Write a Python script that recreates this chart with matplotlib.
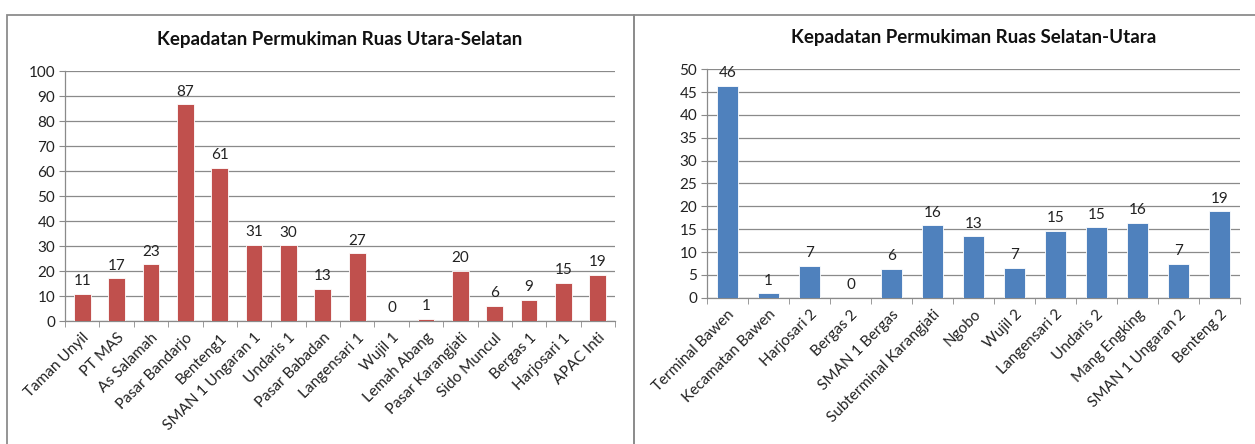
import matplotlib
matplotlib.use("Agg")
import matplotlib.pyplot as plt
from matplotlib.patches import Rectangle
from matplotlib.ticker import FixedLocator

plt.rcParams['font.family'] = ['Lato', 'DejaVu Sans']

# Ruas Utara-Selatan
utara_labels = ["Taman Unyil", "PT MAS", "As Salamah", "Pasar Bandarjo", "Benteng1",
                "SMAN 1 Ungaran 1", "Undaris 1", "Pasar Babadan", "Langensari 1",
                "Wujil 1", "Lemah Abang", "Pasar Karangjati", "Sido Muncul",
                "Bergas 1", "Harjosari 1", "APAC Inti"]
utara_values = [10.8, 17.2, 22.8, 86.9, 61.4, 30.6, 30.4, 12.8, 27.1,
                0.0, 0.8, 20.2, 6.0, 8.6, 15.4, 18.6]

# Ruas Selatan-Utara
selatan_labels = ["Terminal Bawen", "Kecamatan Bawen", "Harjosari 2", "Bergas 2",
                  "SMAN 1 Bergas", "Subterminal Karangjati", "Ngobo", "Wujil 2",
                  "Langensari 2", "Undaris 2", "Mang Engking", "SMAN 1 Ungaran 2",
                  "Benteng 2"]
selatan_values = [46.4, 0.95, 7.0, 0.0, 6.3, 15.9, 13.4, 6.6, 14.6, 15.4, 16.4, 7.4, 18.9]

W, H = 1255, 444
fig = plt.figure(figsize=(W / 100, H / 100), dpi=100)

# outer frames of the two chart boxes
frame_col = "#8c8c8c"
fig.patches.append(Rectangle((7 / W, -0.1), (634 - 7) / W, 1.1 - 15 / H,
                             transform=fig.transFigure, fill=False,
                             edgecolor=frame_col, linewidth=1.3))
fig.patches.append(Rectangle((634 / W, -0.1), 1.0, 1.1 - 15 / H,
                             transform=fig.transFigure, fill=False,
                             edgecolor=frame_col, linewidth=1.3))

FS = 11


def bar_panel(rect, labels, values, color, ymax, step, title, title_y, bar_w):
    ax = fig.add_axes(rect)
    n = len(labels)
    x = range(n)
    ax.bar(x, values, width=bar_w, color=color, edgecolor="white",
           linewidth=0.6, zorder=3)
    for xi, v in zip(x, values):
        ax.annotate(f"{v:.0f}", (xi, v), xytext=(0, 4), textcoords="offset points",
                    ha="center", va="bottom", fontsize=FS, color="#222222")
    ax.set_xlim(-0.5, n - 0.5)
    ax.set_ylim(0, ymax)
    ax.set_yticks(range(0, ymax + 1, step))
    ax.yaxis.grid(True, color="#8a8a8a", linewidth=0.9, zorder=0)
    ax.set_axisbelow(True)

    ax.set_xticks(list(x))
    ax.set_xticklabels(labels, rotation=45, ha="right", rotation_mode="anchor",
                       fontsize=FS, color="#222222")
    ax.xaxis.set_minor_locator(FixedLocator([i - 0.5 for i in range(n + 1)]))
    ax.tick_params(axis="x", which="major", length=0, pad=7)
    ax.tick_params(axis="x", which="minor", length=4, color="#8a8a8a", direction="out")
    ax.tick_params(axis="y", length=4, color="#8a8a8a", labelsize=FS,
                   labelcolor="#222222", pad=3)

    for side in ("top", "right"):
        ax.spines[side].set_visible(False)
    for side in ("left", "bottom"):
        ax.spines[side].set_color("#8a8a8a")
        ax.spines[side].set_linewidth(0.9)

    cx = rect[0] + rect[2] / 2
    fig.text(cx, title_y, title, ha="center", va="center",
             fontsize=13.5, fontweight="bold", color="#111111")
    return ax


bar_panel([65 / W, (H - 321) / H, 550 / W, 249.6 / H], utara_labels, utara_values,
          "#C0504D", 100, 10, "Kepadatan Permukiman Ruas Utara-Selatan",
          1 - 40 / H, 0.49)
bar_panel([707 / W, (H - 297.7) / H, 533 / W, 228.4 / H], selatan_labels, selatan_values,
          "#4F81BD", 50, 5, "Kepadatan Permukiman Ruas Selatan-Utara",
          1 - 38 / H, 0.51)

fig.savefig("out.png", dpi=100)
